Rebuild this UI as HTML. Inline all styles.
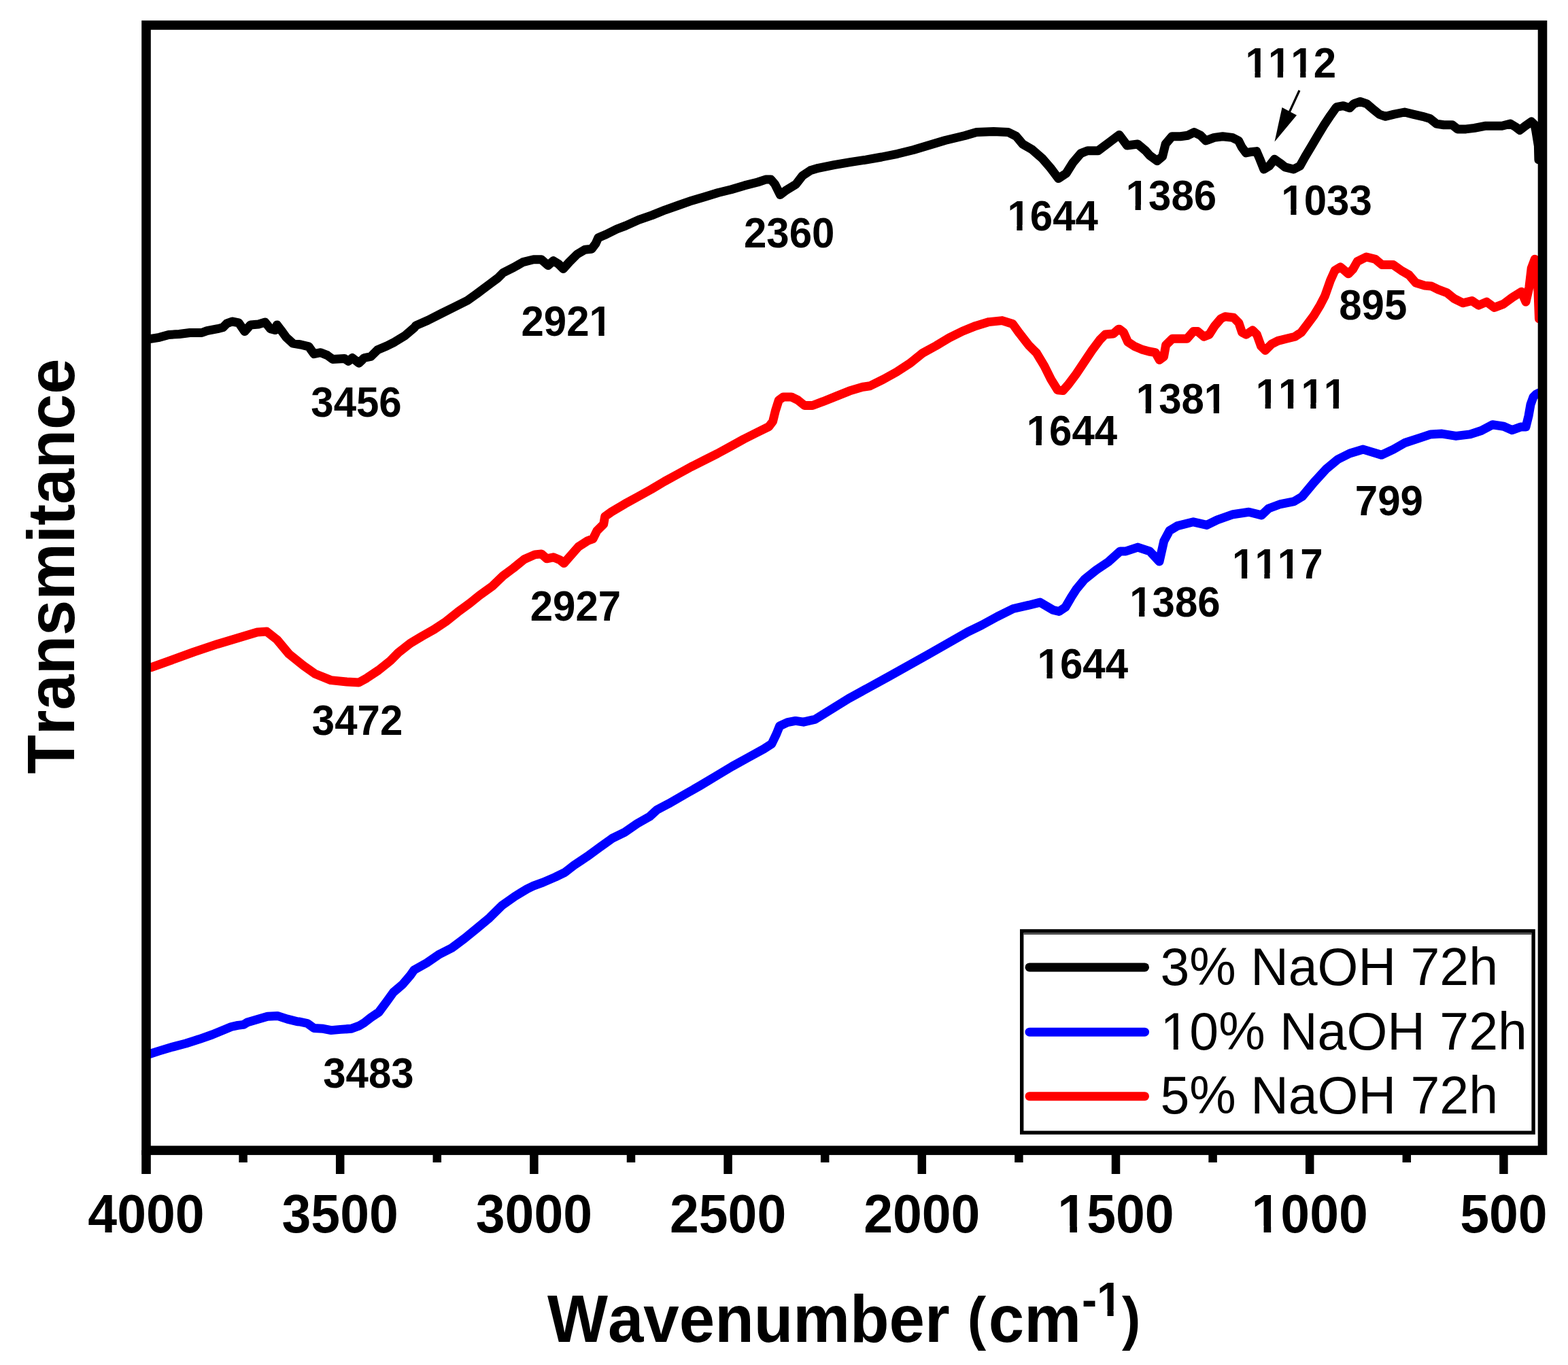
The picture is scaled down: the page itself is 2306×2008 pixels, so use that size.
<!DOCTYPE html><html><head><meta charset="utf-8"><style>html,body{margin:0;padding:0;background:#fff;overflow:hidden}svg{display:block}text{font-kerning:none;font-feature-settings:"kern" 0}</style></head><body><svg xmlns="http://www.w3.org/2000/svg" width="2306" height="2008" viewBox="0 0 2306 2008"><defs><mask id="m_t1500" maskUnits="userSpaceOnUse" x="-5000" y="-5000" width="10000" height="10000"><rect x="-5000" y="-5000" width="10000" height="10000" fill="#fff"/><rect x="1558.72" y="-9.38" width="14.66" height="11.38" fill="#000"/><rect x="1583.97" y="-9.38" width="13.68" height="11.38" fill="#000"/></mask><mask id="m_t1000" maskUnits="userSpaceOnUse" x="-5000" y="-5000" width="10000" height="10000"><rect x="-5000" y="-5000" width="10000" height="10000" fill="#fff"/><rect x="1843.92" y="-9.38" width="14.66" height="11.38" fill="#000"/><rect x="1869.17" y="-9.38" width="13.68" height="11.38" fill="#000"/></mask><mask id="m_xt" maskUnits="userSpaceOnUse" x="-5000" y="-5000" width="10000" height="10000"><rect x="-5000" y="-5000" width="10000" height="10000" fill="#fff"/><rect x="817.28" y="-45.33" width="12.91" height="10.33" fill="#000"/><rect x="839.37" y="-45.33" width="12.06" height="10.33" fill="#000"/></mask><mask id="m_a0" maskUnits="userSpaceOnUse" x="-5000" y="-5000" width="10000" height="10000"><rect x="-5000" y="-5000" width="10000" height="10000" fill="#fff"/><rect x="-64.47" y="-7.59" width="11.67" height="9.59" fill="#000"/><rect x="-44.62" y="-7.59" width="10.91" height="9.59" fill="#000"/><rect x="-31.11" y="-7.59" width="11.67" height="9.59" fill="#000"/><rect x="-11.26" y="-7.59" width="10.91" height="9.59" fill="#000"/><rect x="2.24" y="-7.59" width="11.67" height="9.59" fill="#000"/><rect x="22.10" y="-7.59" width="10.91" height="9.59" fill="#000"/></mask><mask id="m_a1" maskUnits="userSpaceOnUse" x="-5000" y="-5000" width="10000" height="10000"><rect x="-5000" y="-5000" width="10000" height="10000" fill="#fff"/><rect x="-64.47" y="-7.59" width="11.67" height="9.59" fill="#000"/><rect x="-44.62" y="-7.59" width="10.91" height="9.59" fill="#000"/></mask><mask id="m_a2" maskUnits="userSpaceOnUse" x="-5000" y="-5000" width="10000" height="10000"><rect x="-5000" y="-5000" width="10000" height="10000" fill="#fff"/><rect x="-64.47" y="-7.59" width="11.67" height="9.59" fill="#000"/><rect x="-44.62" y="-7.59" width="10.91" height="9.59" fill="#000"/></mask><mask id="m_a3" maskUnits="userSpaceOnUse" x="-5000" y="-5000" width="10000" height="10000"><rect x="-5000" y="-5000" width="10000" height="10000" fill="#fff"/><rect x="-64.47" y="-7.59" width="11.67" height="9.59" fill="#000"/><rect x="-44.62" y="-7.59" width="10.91" height="9.59" fill="#000"/></mask><mask id="m_a5" maskUnits="userSpaceOnUse" x="-5000" y="-5000" width="10000" height="10000"><rect x="-5000" y="-5000" width="10000" height="10000" fill="#fff"/><rect x="35.62" y="-7.59" width="11.67" height="9.59" fill="#000"/><rect x="55.47" y="-7.59" width="10.91" height="9.59" fill="#000"/></mask><mask id="m_a8" maskUnits="userSpaceOnUse" x="-5000" y="-5000" width="10000" height="10000"><rect x="-5000" y="-5000" width="10000" height="10000" fill="#fff"/><rect x="-64.47" y="-7.59" width="11.67" height="9.59" fill="#000"/><rect x="-44.62" y="-7.59" width="10.91" height="9.59" fill="#000"/></mask><mask id="m_a9" maskUnits="userSpaceOnUse" x="-5000" y="-5000" width="10000" height="10000"><rect x="-5000" y="-5000" width="10000" height="10000" fill="#fff"/><rect x="-64.47" y="-7.59" width="11.67" height="9.59" fill="#000"/><rect x="-44.62" y="-7.59" width="10.91" height="9.59" fill="#000"/><rect x="35.62" y="-7.59" width="11.67" height="9.59" fill="#000"/><rect x="55.47" y="-7.59" width="10.91" height="9.59" fill="#000"/></mask><mask id="m_a10" maskUnits="userSpaceOnUse" x="-5000" y="-5000" width="10000" height="10000"><rect x="-5000" y="-5000" width="10000" height="10000" fill="#fff"/><rect x="-64.47" y="-7.59" width="11.67" height="9.59" fill="#000"/><rect x="-44.62" y="-7.59" width="10.91" height="9.59" fill="#000"/><rect x="-31.11" y="-7.59" width="11.67" height="9.59" fill="#000"/><rect x="-11.26" y="-7.59" width="10.91" height="9.59" fill="#000"/><rect x="2.24" y="-7.59" width="11.67" height="9.59" fill="#000"/><rect x="22.10" y="-7.59" width="10.91" height="9.59" fill="#000"/><rect x="35.62" y="-7.59" width="11.67" height="9.59" fill="#000"/><rect x="55.47" y="-7.59" width="10.91" height="9.59" fill="#000"/></mask><mask id="m_a14" maskUnits="userSpaceOnUse" x="-5000" y="-5000" width="10000" height="10000"><rect x="-5000" y="-5000" width="10000" height="10000" fill="#fff"/><rect x="-64.47" y="-7.59" width="11.67" height="9.59" fill="#000"/><rect x="-44.62" y="-7.59" width="10.91" height="9.59" fill="#000"/><rect x="-31.11" y="-7.59" width="11.67" height="9.59" fill="#000"/><rect x="-11.26" y="-7.59" width="10.91" height="9.59" fill="#000"/><rect x="2.24" y="-7.59" width="11.67" height="9.59" fill="#000"/><rect x="22.10" y="-7.59" width="10.91" height="9.59" fill="#000"/></mask><mask id="m_a15" maskUnits="userSpaceOnUse" x="-5000" y="-5000" width="10000" height="10000"><rect x="-5000" y="-5000" width="10000" height="10000" fill="#fff"/><rect x="-64.47" y="-7.59" width="11.67" height="9.59" fill="#000"/><rect x="-44.62" y="-7.59" width="10.91" height="9.59" fill="#000"/></mask><mask id="m_a16" maskUnits="userSpaceOnUse" x="-5000" y="-5000" width="10000" height="10000"><rect x="-5000" y="-5000" width="10000" height="10000" fill="#fff"/><rect x="-64.47" y="-7.59" width="11.67" height="9.59" fill="#000"/><rect x="-44.62" y="-7.59" width="10.91" height="9.59" fill="#000"/></mask><mask id="m_lg1" maskUnits="userSpaceOnUse" x="-5000" y="-5000" width="10000" height="10000"><rect x="-5000" y="-5000" width="10000" height="10000" fill="#fff"/><rect x="4.36" y="-7.25" width="14.99" height="9.25" fill="#000"/><rect x="26.16" y="-7.25" width="14.39" height="9.25" fill="#000"/></mask></defs><rect width="2306" height="2008" fill="#fff"/>
<path d="M221.8 498.3 L234.4 496.3 L248.0 492.4 L263.6 491.5 L279.1 489.5 L296.6 489.5 L304.4 486.6 L320.0 483.7 L327.7 481.8 L333.6 475.9 L341.3 473.0 L351.1 474.9 L359.8 487.6 L368.5 477.9 L380.2 476.9 L389.9 474.0 L397.7 483.7 L404.5 485.6 L407.4 477.9 L413.3 485.6 L421.0 496.3 L430.7 505.1 L442.4 507.0 L454.1 509.9 L461.8 520.6 L471.6 518.7 L481.3 522.6 L489.1 528.4 L506.5 527.4 L512.4 531.3 L518.2 526.5 L527.9 534.2 L535.7 526.5 L545.4 524.5 L555.1 514.8 L568.7 509.0 L580.4 503.1 L596.0 493.4 L609.6 481.8 L611.7 478.9 L629.2 471.2 L648.6 461.4 L668.0 451.7 L687.5 442.0 L701.1 432.3 L716.6 420.6 L732.2 409.0 L739.9 401.2 L755.5 393.4 L769.1 385.6 L784.6 381.8 L796.3 381.8 L806.0 390.5 L813.8 383.7 L821.6 388.6 L828.4 395.4 L837.1 385.6 L848.8 374.0 L860.4 367.2 L870.2 366.2 L876.0 358.4 L879.9 349.7 L891.5 344.8 L907.1 337.0 L920.0 332.1 L939.4 323.4 L958.9 316.6 L978.3 308.8 L997.7 302.0 L1017.2 295.2 L1036.6 289.4 L1056.1 283.5 L1075.5 278.7 L1094.9 272.9 L1114.4 268.0 L1126.0 264.1 L1133.8 264.1 L1139.6 270.9 L1147.4 286.5 L1155.2 280.6 L1170.7 270.9 L1180.4 258.3 L1191.7 250.8 L1203.3 247.3 L1226.6 242.6 L1250.0 238.6 L1273.3 235.1 L1296.6 231.0 L1319.9 226.3 L1343.3 220.5 L1366.6 213.5 L1389.9 206.5 L1419.1 199.5 L1436.1 194.5 L1461.3 193.6 L1482.7 194.5 L1494.4 200.4 L1504.1 212.0 L1517.7 219.8 L1533.2 233.4 L1544.9 247.0 L1556.6 262.6 L1568.2 254.8 L1577.9 239.2 L1589.6 225.6 L1599.3 221.8 L1614.9 221.8 L1630.4 210.1 L1646.0 198.4 L1657.6 214.0 L1673.2 212.0 L1684.8 221.8 L1690.9 228.8 L1701.8 236.6 L1709.5 230.3 L1714.2 211.7 L1723.5 200.8 L1736.0 200.8 L1746.9 199.2 L1756.2 194.6 L1765.5 199.2 L1773.3 207.0 L1785.7 202.4 L1798.2 200.8 L1812.2 202.4 L1821.5 207.0 L1826.2 216.4 L1832.4 224.9 L1840.2 223.4 L1847.9 222.6 L1852.6 233.5 L1858.8 249.0 L1866.6 244.3 L1874.4 234.2 L1882.1 239.7 L1889.9 245.9 L1902.4 249.0 L1911.7 244.3 L1919.5 230.3 L1928.8 214.8 L1938.1 199.2 L1947.5 183.7 L1956.8 169.7 L1964.6 158.8 L1966.2 157.3 L1975.5 155.7 L1984.9 158.8 L1991.1 152.6 L2000.4 149.5 L2009.8 152.6 L2019.1 160.4 L2028.4 168.1 L2037.7 171.3 L2050.2 168.1 L2065.7 165.0 L2078.2 168.1 L2092.2 171.3 L2103.1 174.4 L2112.4 182.1 L2123.3 183.7 L2135.7 183.7 L2143.5 189.9 L2155.9 189.9 L2168.4 188.4 L2183.9 185.3 L2196.4 185.3 L2208.8 185.3 L2221.2 182.1 L2229.0 186.8 L2235.2 191.5 L2243.0 185.3 L2252.3 179.0 L2257.0 183.7 L2258.6 191.5 L2262.4 214.8 L2262.9 235.0" fill="none" stroke="#000" stroke-width="13" stroke-linejoin="round" stroke-linecap="round"/>
<path d="M222.0 981.8 L250.0 971.9 L285.0 959.1 L320.0 947.4 L355.0 936.9 L378.3 929.9 L392.3 929.1 L407.4 941.0 L424.9 962.0 L446.0 979.0 L463.3 991.3 L486.6 1000.6 L510.0 1003.0 L527.5 1004.1 L539.1 997.7 L556.6 986.0 L574.1 972.0 L585.8 960.1 L603.3 946.4 L620.8 935.9 L638.3 926.0 L655.8 914.3 L673.3 900.3 L690.8 887.5 L705.0 876.0 L724.1 862.2 L739.9 847.0 L755.5 835.4 L771.0 822.7 L786.6 815.9 L796.3 814.9 L804.1 821.8 L813.8 819.8 L823.5 823.7 L829.3 828.6 L837.1 819.8 L850.7 804.3 L864.3 795.5 L872.1 792.6 L877.9 780.9 L887.7 771.2 L889.7 759.8 L899.4 752.9 L918.9 741.3 L938.3 730.6 L957.7 719.9 L977.2 708.2 L996.6 697.6 L1016.1 686.9 L1035.5 677.1 L1054.9 667.4 L1074.4 656.7 L1093.8 646.0 L1113.2 636.3 L1130.7 627.6 L1136.6 619.8 L1140.4 604.3 L1145.3 588.7 L1152.1 583.9 L1163.8 583.9 L1173.5 588.7 L1183.2 596.5 L1194.9 596.5 L1210.4 590.7 L1229.9 582.9 L1249.3 575.1 L1268.7 569.3 L1279.4 567.8 L1298.9 558.1 L1318.3 547.4 L1337.7 534.8 L1357.2 519.2 L1376.6 508.6 L1396.1 496.9 L1415.5 487.2 L1434.9 479.4 L1454.4 473.6 L1473.8 471.6 L1489.3 476.5 L1499.1 490.1 L1512.7 507.6 L1524.3 519.2 L1536.0 538.7 L1545.7 558.1 L1555.4 573.7 L1563.2 574.6 L1571.0 565.9 L1582.6 550.3 L1594.3 532.9 L1606.0 515.4 L1617.6 499.8 L1625.4 492.0 L1637.1 491.1 L1644.8 484.3 L1646.2 484.3 L1652.4 489.0 L1658.7 503.0 L1668.0 509.2 L1678.9 513.9 L1689.8 517.0 L1699.1 518.6 L1705.3 529.4 L1711.5 524.8 L1714.6 507.7 L1724.0 498.3 L1736.4 498.3 L1745.7 498.3 L1755.1 487.5 L1761.3 487.5 L1770.6 495.2 L1778.4 492.1 L1786.2 479.7 L1795.5 468.8 L1801.7 465.7 L1814.2 467.2 L1821.9 475.0 L1826.6 489.0 L1832.8 492.1 L1842.1 485.9 L1848.4 492.1 L1854.6 509.2 L1860.8 515.4 L1870.1 506.1 L1879.5 501.4 L1891.9 498.3 L1904.3 495.2 L1913.7 489.0 L1923.0 476.6 L1932.3 464.1 L1941.7 448.6 L1948.3 435.8 L1956.5 412.7 L1963.1 397.8 L1971.4 392.9 L1983.0 402.8 L1989.6 396.2 L1996.2 384.6 L2009.4 378.0 L2022.6 381.3 L2032.5 389.6 L2049.0 389.6 L2060.6 397.8 L2072.2 404.5 L2082.1 416.0 L2095.3 420.1 L2105.2 421.0 L2115.1 425.9 L2128.3 430.9 L2138.2 439.1 L2151.5 445.8 L2164.7 442.5 L2174.6 449.1 L2186.2 444.1 L2197.7 452.4 L2210.9 447.4 L2224.2 437.5 L2237.4 429.2 L2244.0 444.1 L2248.9 422.6 L2252.2 394.5 L2257.2 381.3 L2261.3 411.1 L2263.5 468.9" fill="none" stroke="#f00" stroke-width="13" stroke-linejoin="round" stroke-linecap="round"/>
<path d="M220.8 1550.2 L234.4 1545.9 L253.9 1540.1 L273.3 1535.0 L292.7 1528.8 L312.2 1522.0 L331.6 1514.0 L340.0 1510.5 L349.7 1508.4 L358.1 1507.4 L364.3 1503.7 L378.8 1499.5 L393.4 1495.2 L408.0 1494.4 L422.6 1499.1 L437.2 1502.8 L440.5 1503.0 L452.1 1505.5 L461.8 1512.5 L475.4 1513.3 L487.1 1515.6 L500.7 1514.4 L516.3 1513.3 L527.9 1509.2 L535.7 1504.5 L545.4 1496.9 L557.1 1489.0 L568.7 1473.4 L578.5 1459.8 L592.1 1448.1 L603.7 1434.5 L609.1 1426.8 L627.8 1416.3 L646.3 1403.7 L664.5 1394.5 L683.2 1380.5 L701.7 1365.4 L719.9 1350.2 L738.6 1331.7 L757.0 1318.7 L775.3 1307.6 L784.6 1303.2 L798.4 1298.1 L816.9 1290.1 L830.7 1283.3 L844.5 1272.7 L863.2 1260.2 L881.6 1246.8 L900.1 1233.4 L918.6 1224.3 L937.0 1211.6 L955.5 1201.1 L965.8 1191.6 L983.3 1182.3 L1006.6 1168.9 L1030.0 1155.5 L1053.3 1141.5 L1076.6 1127.5 L1099.9 1114.6 L1123.3 1101.8 L1134.9 1094.2 L1141.9 1079.6 L1146.6 1068.0 L1158.2 1062.7 L1169.9 1060.4 L1181.6 1062.2 L1199.1 1058.1 L1248.3 1027.5 L1306.6 995.5 L1364.9 962.8 L1423.2 929.6 L1443.3 919.9 L1466.6 907.1 L1490.0 895.5 L1513.3 890.2 L1529.6 886.1 L1548.3 897.2 L1557.6 899.5 L1566.9 893.1 L1575.1 879.1 L1583.3 866.3 L1594.9 852.3 L1612.4 838.3 L1629.9 826.6 L1647.4 810.9 L1655.8 810.9 L1673.3 805.1 L1690.8 810.9 L1705.0 826.0 L1711.8 795.8 L1720.0 780.6 L1731.6 773.6 L1755.0 767.8 L1774.8 772.4 L1790.0 764.9 L1813.3 756.7 L1836.6 753.2 L1855.2 757.9 L1865.7 748.0 L1883.2 741.5 L1903.3 737.5 L1915.0 730.5 L1932.5 709.5 L1950.0 690.3 L1967.5 675.7 L1985.0 667.0 L2004.8 661.1 L2031.6 669.3 L2049.1 661.1 L2066.6 651.2 L2089.9 643.6 L2104.1 638.9 L2120.7 638.1 L2141.3 641.4 L2162.0 638.9 L2178.5 633.5 L2195.0 624.8 L2211.5 627.3 L2223.9 632.7 L2236.3 628.1 L2244.0 628.0 L2248.0 612.0 L2251.0 595.0 L2255.0 584.0 L2259.0 580.0 L2263.0 578.0" fill="none" stroke="#00f" stroke-width="13" stroke-linejoin="round" stroke-linecap="round"/>
<line x1="1911" y1="133" x2="1893" y2="172" stroke="#000" stroke-width="3.2"/>
<polygon points="1885.5,158 1907,169.5 1874.5,208.5" fill="#000"/>
<rect x="215" y="37" width="2053.5" height="1655.3" fill="none" stroke="#000" stroke-width="13.6"/>
<line x1="215.0" y1="1692" x2="215.0" y2="1727" stroke="#000" stroke-width="13.6"/>
<line x1="357.6" y1="1692" x2="357.6" y2="1710" stroke="#000" stroke-width="12.5"/>
<line x1="500.2" y1="1692" x2="500.2" y2="1727" stroke="#000" stroke-width="12.5"/>
<line x1="642.8" y1="1692" x2="642.8" y2="1710" stroke="#000" stroke-width="12.5"/>
<line x1="785.4" y1="1692" x2="785.4" y2="1727" stroke="#000" stroke-width="12.5"/>
<line x1="928.0" y1="1692" x2="928.0" y2="1710" stroke="#000" stroke-width="12.5"/>
<line x1="1070.6" y1="1692" x2="1070.6" y2="1727" stroke="#000" stroke-width="12.5"/>
<line x1="1213.2" y1="1692" x2="1213.2" y2="1710" stroke="#000" stroke-width="12.5"/>
<line x1="1355.8" y1="1692" x2="1355.8" y2="1727" stroke="#000" stroke-width="12.5"/>
<line x1="1498.4" y1="1692" x2="1498.4" y2="1710" stroke="#000" stroke-width="12.5"/>
<line x1="1641.0" y1="1692" x2="1641.0" y2="1727" stroke="#000" stroke-width="12.5"/>
<line x1="1783.6" y1="1692" x2="1783.6" y2="1710" stroke="#000" stroke-width="12.5"/>
<line x1="1926.2" y1="1692" x2="1926.2" y2="1727" stroke="#000" stroke-width="12.5"/>
<line x1="2068.8" y1="1692" x2="2068.8" y2="1710" stroke="#000" stroke-width="12.5"/>
<line x1="2211.4" y1="1692" x2="2211.4" y2="1727" stroke="#000" stroke-width="12.5"/>
<text id="t4000" x="215.0" y="0" transform="translate(0 1813) scale(1 1.04)" text-anchor="middle" font-size="77" font-family="Liberation Sans, Arial, sans-serif" font-weight="bold">4000</text>
<text id="t3500" x="500.2" y="0" transform="translate(0 1813) scale(1 1.04)" text-anchor="middle" font-size="77" font-family="Liberation Sans, Arial, sans-serif" font-weight="bold">3500</text>
<text id="t3000" x="785.4" y="0" transform="translate(0 1813) scale(1 1.04)" text-anchor="middle" font-size="77" font-family="Liberation Sans, Arial, sans-serif" font-weight="bold">3000</text>
<text id="t2500" x="1070.6" y="0" transform="translate(0 1813) scale(1 1.04)" text-anchor="middle" font-size="77" font-family="Liberation Sans, Arial, sans-serif" font-weight="bold">2500</text>
<text id="t2000" x="1355.8" y="0" transform="translate(0 1813) scale(1 1.04)" text-anchor="middle" font-size="77" font-family="Liberation Sans, Arial, sans-serif" font-weight="bold">2000</text>
<text id="t1500" x="1641.0" y="0" transform="translate(0 1813) scale(1 1.04)" text-anchor="middle" font-size="77" font-family="Liberation Sans, Arial, sans-serif" font-weight="bold" mask="url(#m_t1500)">1500</text>
<text id="t1000" x="1926.2" y="0" transform="translate(0 1813) scale(1 1.04)" text-anchor="middle" font-size="77" font-family="Liberation Sans, Arial, sans-serif" font-weight="bold" mask="url(#m_t1000)">1000</text>
<text id="t500" x="2211.4" y="0" transform="translate(0 1813) scale(1 1.04)" text-anchor="middle" font-size="77" font-family="Liberation Sans, Arial, sans-serif" font-weight="bold">500</text>
<text id="xt" x="0" y="0" transform="translate(805 1974) scale(0.992 1.04)" font-size="95" font-family="Liberation Sans, Arial, sans-serif" font-weight="bold" mask="url(#m_xt)">Wavenumber <tspan font-size="83" dy="-5">(</tspan><tspan dy="5" dx="3.5">cm</tspan><tspan dy="-37" dx="1" font-size="67">-1</tspan><tspan font-size="83" dy="32" dx="0">)</tspan></text>
<text id="yt" x="0" y="0" transform="translate(109 833) rotate(-90) scale(1 1.055)" text-anchor="middle" font-size="94" font-family="Liberation Sans, Arial, sans-serif" font-weight="bold">Transmitance</text>
<text id="a0" x="0" y="0" transform="translate(1898.3 113.5) scale(1 1.04)" text-anchor="middle" font-size="60" font-family="Liberation Sans, Arial, sans-serif" font-weight="bold" mask="url(#m_a0)">1112</text>
<text id="a1" x="0" y="0" transform="translate(1548.2 339.0) scale(1 1.04)" text-anchor="middle" font-size="60" font-family="Liberation Sans, Arial, sans-serif" font-weight="bold" mask="url(#m_a1)">1644</text>
<text id="a2" x="0" y="0" transform="translate(1722.4 309.1) scale(1 1.04)" text-anchor="middle" font-size="60" font-family="Liberation Sans, Arial, sans-serif" font-weight="bold" mask="url(#m_a2)">1386</text>
<text id="a3" x="0" y="0" transform="translate(1951.1 315.5) scale(1 1.04)" text-anchor="middle" font-size="60" font-family="Liberation Sans, Arial, sans-serif" font-weight="bold" mask="url(#m_a3)">1033</text>
<text id="a4" x="0" y="0" transform="translate(1160.7 363.9) scale(1 1.04)" text-anchor="middle" font-size="60" font-family="Liberation Sans, Arial, sans-serif" font-weight="bold">2360</text>
<text id="a5" x="0" y="0" transform="translate(833.2 494.3) scale(1 1.04)" text-anchor="middle" font-size="60" font-family="Liberation Sans, Arial, sans-serif" font-weight="bold" mask="url(#m_a5)">2921</text>
<text id="a6" x="0" y="0" transform="translate(524.0 612.6) scale(1 1.04)" text-anchor="middle" font-size="60" font-family="Liberation Sans, Arial, sans-serif" font-weight="bold">3456</text>
<text id="a7" x="0" y="0" transform="translate(2019.2 469.8) scale(1 1.04)" text-anchor="middle" font-size="60" font-family="Liberation Sans, Arial, sans-serif" font-weight="bold">895</text>
<text id="a8" x="0" y="0" transform="translate(1576.4 654.8) scale(1 1.04)" text-anchor="middle" font-size="60" font-family="Liberation Sans, Arial, sans-serif" font-weight="bold" mask="url(#m_a8)">1644</text>
<text id="a9" x="0" y="0" transform="translate(1737.5 607.7) scale(1 1.04)" text-anchor="middle" font-size="60" font-family="Liberation Sans, Arial, sans-serif" font-weight="bold" mask="url(#m_a9)">1381</text>
<text id="a10" x="0" y="0" transform="translate(1913.4 600.5) scale(1 1.04)" text-anchor="middle" font-size="60" font-family="Liberation Sans, Arial, sans-serif" font-weight="bold" mask="url(#m_a10)">1111</text>
<text id="a11" x="0" y="0" transform="translate(846.4 913.4) scale(1 1.04)" text-anchor="middle" font-size="60" font-family="Liberation Sans, Arial, sans-serif" font-weight="bold">2927</text>
<text id="a12" x="0" y="0" transform="translate(525.6 1081.4) scale(1 1.04)" text-anchor="middle" font-size="60" font-family="Liberation Sans, Arial, sans-serif" font-weight="bold">3472</text>
<text id="a13" x="0" y="0" transform="translate(2042.9 758.2) scale(1 1.04)" text-anchor="middle" font-size="60" font-family="Liberation Sans, Arial, sans-serif" font-weight="bold">799</text>
<text id="a14" x="0" y="0" transform="translate(1878.8 850.8) scale(1 1.04)" text-anchor="middle" font-size="60" font-family="Liberation Sans, Arial, sans-serif" font-weight="bold" mask="url(#m_a14)">1117</text>
<text id="a15" x="0" y="0" transform="translate(1727.9 906.9) scale(1 1.04)" text-anchor="middle" font-size="60" font-family="Liberation Sans, Arial, sans-serif" font-weight="bold" mask="url(#m_a15)">1386</text>
<text id="a16" x="0" y="0" transform="translate(1592.3 997.9) scale(1 1.04)" text-anchor="middle" font-size="60" font-family="Liberation Sans, Arial, sans-serif" font-weight="bold" mask="url(#m_a16)">1644</text>
<text id="a17" x="0" y="0" transform="translate(541.9 1599.8) scale(1 1.04)" text-anchor="middle" font-size="60" font-family="Liberation Sans, Arial, sans-serif" font-weight="bold">3483</text>
<rect x="1502.7" y="1369.6" width="752.4" height="296.6" fill="#fff" stroke="#000" stroke-width="5.4"/>
<line x1="1505.4" y1="1373.6" x2="2252.4" y2="1373.6" stroke="#333" stroke-width="2.4"/>
<line x1="1514" y1="1422.9" x2="1683.5" y2="1422.9" stroke="#000" stroke-width="13" stroke-linecap="round"/>
<line x1="1514" y1="1518.2" x2="1683.5" y2="1518.2" stroke="#00f" stroke-width="13" stroke-linecap="round"/>
<line x1="1514" y1="1612.7" x2="1683.5" y2="1612.7" stroke="#f00" stroke-width="13" stroke-linecap="round"/>
<text id="lg0" x="0" y="0" transform="translate(1706.5 1449) scale(1 1.0)" font-size="77" font-family="Liberation Sans, Arial, sans-serif">3% NaOH 72h</text>
<text id="lg1" x="0" y="0" transform="translate(1706.5 1544.3) scale(1 1.0)" font-size="77" font-family="Liberation Sans, Arial, sans-serif" mask="url(#m_lg1)">10% NaOH 72h</text>
<text id="lg2" x="0" y="0" transform="translate(1706.5 1638) scale(1 1.0)" font-size="77" font-family="Liberation Sans, Arial, sans-serif">5% NaOH 72h</text></svg></body></html>
